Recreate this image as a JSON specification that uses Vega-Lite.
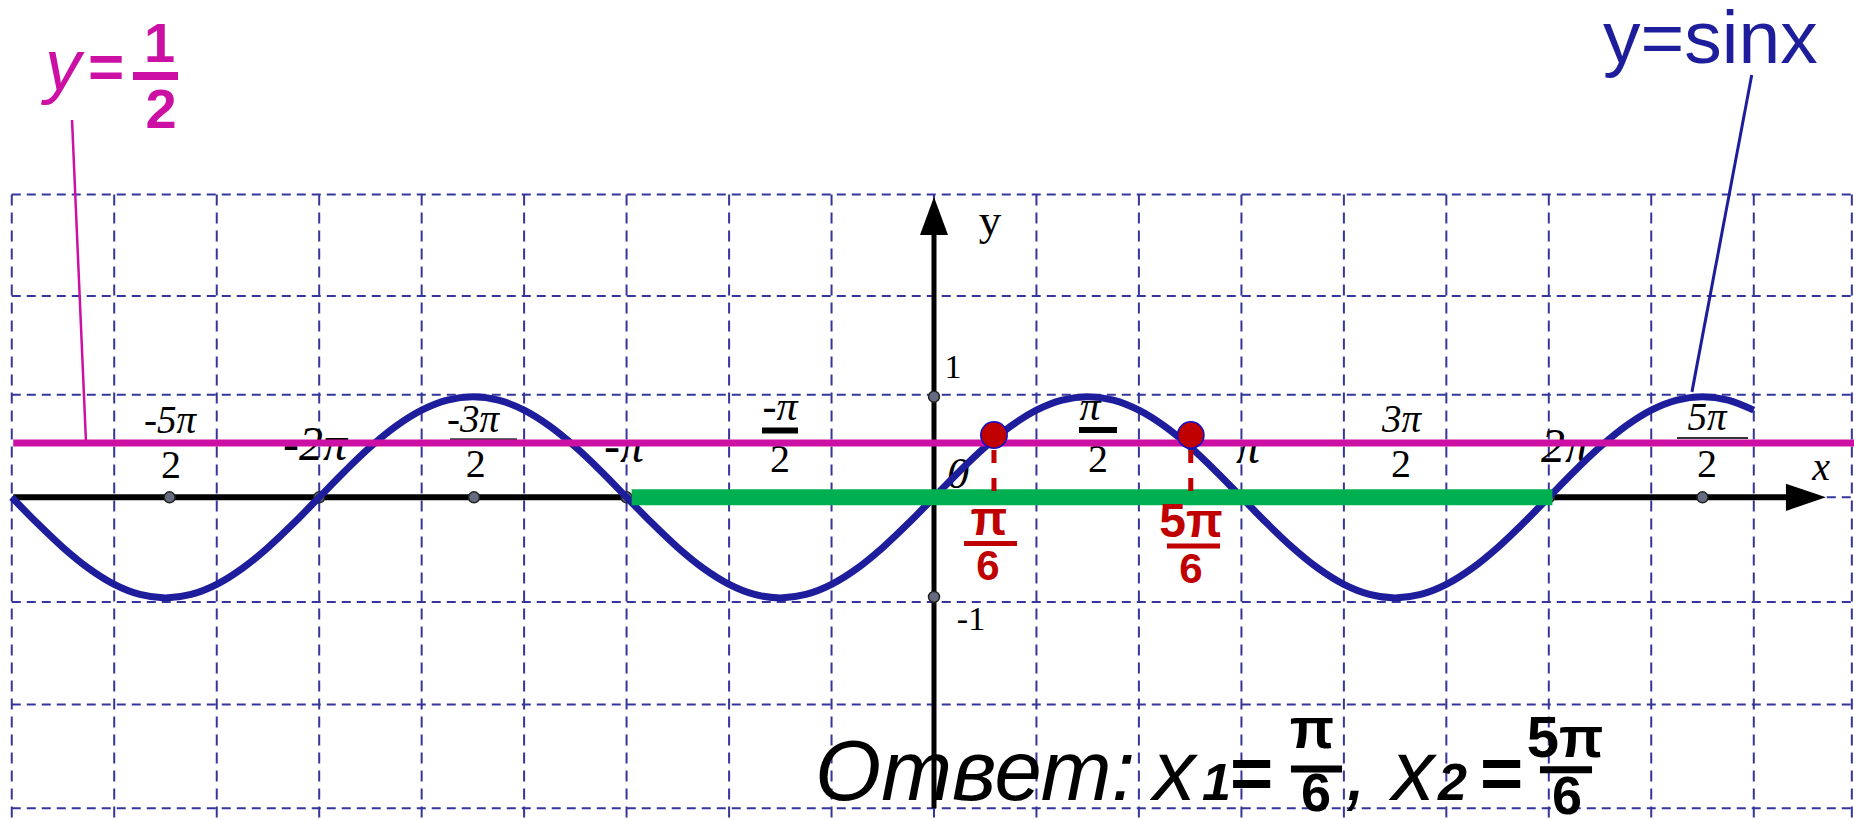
{
  "$schema": "https://vega.github.io/schema/vega-lite/v6.json",
  "width": 1854,
  "height": 820,
  "autosize": {"type": "none"},
  "padding": 0,
  "background": "white",
  "config": {"view": {"stroke": null}},
  "datasets": {
    "curve": [
      {"x": -9.425, "y": 0}, {"x": -9.163, "y": -0.259}, {"x": -8.901, "y": -0.5}, {"x": -8.639, "y": -0.707},
      {"x": -8.378, "y": -0.866}, {"x": -8.116, "y": -0.966}, {"x": -7.854, "y": -1}, {"x": -7.592, "y": -0.966},
      {"x": -7.330, "y": -0.866}, {"x": -7.069, "y": -0.707}, {"x": -6.807, "y": -0.5}, {"x": -6.545, "y": -0.259},
      {"x": -6.283, "y": 0}, {"x": -6.021, "y": 0.259}, {"x": -5.760, "y": 0.5}, {"x": -5.498, "y": 0.707},
      {"x": -5.236, "y": 0.866}, {"x": -4.974, "y": 0.966}, {"x": -4.712, "y": 1}, {"x": -4.451, "y": 0.966},
      {"x": -4.189, "y": 0.866}, {"x": -3.927, "y": 0.707}, {"x": -3.665, "y": 0.5}, {"x": -3.403, "y": 0.259},
      {"x": -3.142, "y": 0}, {"x": -2.880, "y": -0.259}, {"x": -2.618, "y": -0.5}, {"x": -2.356, "y": -0.707},
      {"x": -2.094, "y": -0.866}, {"x": -1.833, "y": -0.966}, {"x": -1.571, "y": -1}, {"x": -1.309, "y": -0.966},
      {"x": -1.047, "y": -0.866}, {"x": -0.785, "y": -0.707}, {"x": -0.524, "y": -0.5}, {"x": -0.262, "y": -0.259},
      {"x": 0, "y": 0}, {"x": 0.262, "y": 0.259}, {"x": 0.524, "y": 0.5}, {"x": 0.785, "y": 0.707},
      {"x": 1.047, "y": 0.866}, {"x": 1.309, "y": 0.966}, {"x": 1.571, "y": 1}, {"x": 1.833, "y": 0.966},
      {"x": 2.094, "y": 0.866}, {"x": 2.356, "y": 0.707}, {"x": 2.618, "y": 0.5}, {"x": 2.880, "y": 0.259},
      {"x": 3.142, "y": 0}, {"x": 3.403, "y": -0.259}, {"x": 3.665, "y": -0.5}, {"x": 3.927, "y": -0.707},
      {"x": 4.189, "y": -0.866}, {"x": 4.451, "y": -0.966}, {"x": 4.712, "y": -1}, {"x": 4.974, "y": -0.966},
      {"x": 5.236, "y": -0.866}, {"x": 5.498, "y": -0.707}, {"x": 5.760, "y": -0.5}, {"x": 6.021, "y": -0.259},
      {"x": 6.283, "y": 0}, {"x": 6.545, "y": 0.259}, {"x": 6.807, "y": 0.5}, {"x": 7.069, "y": 0.707},
      {"x": 7.330, "y": 0.866}, {"x": 7.592, "y": 0.966}, {"x": 7.854, "y": 1}, {"x": 8.116, "y": 0.966},
      {"x": 8.378, "y": 0.866}
    ],
    "gridx": [
      {"x": -9.425, "y": 3.01, "y2": -3.4}, {"x": -8.378, "y": 3.01, "y2": -3.4}, {"x": -7.330, "y": 3.01, "y2": -3.4},
      {"x": -6.283, "y": 3.01, "y2": -3.4}, {"x": -5.236, "y": 3.01, "y2": -3.4}, {"x": -4.189, "y": 3.01, "y2": -3.4},
      {"x": -3.142, "y": 3.01, "y2": -3.4}, {"x": -2.094, "y": 3.01, "y2": -3.4}, {"x": -1.047, "y": 3.01, "y2": -3.4},
      {"x": 0, "y": 3.01, "y2": -3.4}, {"x": 1.047, "y": 3.01, "y2": -3.4}, {"x": 2.094, "y": 3.01, "y2": -3.4},
      {"x": 3.142, "y": 3.01, "y2": -3.4}, {"x": 4.189, "y": 3.01, "y2": -3.4}, {"x": 5.236, "y": 3.01, "y2": -3.4},
      {"x": 6.283, "y": 3.01, "y2": -3.4}, {"x": 7.330, "y": 3.01, "y2": -3.4}, {"x": 8.378, "y": 3.01, "y2": -3.4},
      {"x": 9.38, "y": 3.01, "y2": -3.4}
    ],
    "gridy": [
      {"y": 3.01, "x": -9.425, "x2": 9.6}, {"y": 2.0, "x": -9.425, "x2": 9.6}, {"y": 1.02, "x": -9.425, "x2": 9.6},
      {"y": 0, "x": -9.425, "x2": 9.6}, {"y": -1.04, "x": -9.425, "x2": 9.6}, {"y": -2.06, "x": -9.425, "x2": 9.6},
      {"y": -3.09, "x": -9.425, "x2": 9.6}
    ],
    "segments": [
      {"g": "xaxis", "x": -9.41, "x2": 8.75, "y": 0, "y2": 0},
      {"g": "yaxis", "x": 0, "x2": 0, "y": -3.09, "y2": 2.65},
      {"g": "green", "x": -3.09, "x2": 6.32, "y": 0, "y2": 0},
      {"g": "magenta", "x": -9.41, "x2": 9.6, "y": 0.54, "y2": 0.54},
      {"g": "leadm", "x": -8.809, "x2": -8.666, "y": 3.75, "y2": 0.54},
      {"g": "leadb", "x": 8.357, "x2": 7.746, "y": 4.198, "y2": 1.048},
      {"g": "rdash", "x": 0.613, "x2": 0.613, "y": 0.47, "y2": 0},
      {"g": "rdash", "x": 2.624, "x2": 2.624, "y": 0.47, "y2": 0}
    ],
    "bars": [
      {"g": "thin", "x": -4.946, "x2": -4.262, "y": 0.577},
      {"g": "thin", "x": 7.593, "x2": 8.319, "y": 0.589},
      {"g": "thick", "x": -1.758, "x2": -1.39, "y": 0.664},
      {"g": "thick", "x": 1.482, "x2": 1.87, "y": 0.669},
      {"g": "ans", "x": 3.648, "x2": 4.17, "y": -2.701},
      {"g": "ans", "x": 6.193, "x2": 6.725, "y": -2.709},
      {"g": "mag", "x": -8.186, "x2": -7.726, "y": 4.188},
      {"g": "red", "x": 0.307, "x2": 0.848, "y": -0.459},
      {"g": "red", "x": 2.381, "x2": 2.923, "y": -0.484}
    ],
    "dots": [
      {"x": -7.812, "y": 0}, {"x": -6.283, "y": 0}, {"x": -4.701, "y": 0}, {"x": -3.142, "y": 0},
      {"x": 1.571, "y": 0}, {"x": 3.142, "y": 0}, {"x": 4.712, "y": 0}, {"x": 6.283, "y": 0},
      {"x": 7.854, "y": 0}, {"x": 0, "y": 1.0}, {"x": 0, "y": -0.99}
    ],
    "roots": [
      {"x": 0.613, "y": 0.619}, {"x": 2.624, "y": 0.619}
    ],
    "yarrow": [{"x": 0, "y": 2.796}],
    "xarrow": [{"x": 8.911, "y": 0}],
    "labels": [
      {"g": "num34", "t": "-5π", "x": -7.808, "y": 0.636},
      {"g": "num34", "t": "-3π", "x": -4.711, "y": 0.652},
      {"g": "num34", "t": "3π", "x": 4.778, "y": 0.649},
      {"g": "num34", "t": "5π", "x": 7.9, "y": 0.669},
      {"g": "num42", "t": "-π", "x": -1.574, "y": 0.768},
      {"g": "num42", "t": "π", "x": 1.594, "y": 0.768},
      {"g": "den", "t": "2", "x": -7.798, "y": 0.189},
      {"g": "den", "t": "2", "x": -4.683, "y": 0.205},
      {"g": "den", "t": "2", "x": -1.574, "y": 0.251},
      {"g": "den", "t": "2", "x": 1.676, "y": 0.251},
      {"g": "den", "t": "2", "x": 4.773, "y": 0.201},
      {"g": "den", "t": "2", "x": 7.9, "y": 0.201},
      {"g": "int", "t": "-2π", "x": -6.326, "y": 0.371},
      {"g": "int", "t": "-π", "x": -3.168, "y": 0.351},
      {"g": "int", "t": "π", "x": 3.209, "y": 0.341},
      {"g": "int", "t": "2π", "x": 6.449, "y": 0.351},
      {"g": "zero", "t": "0", "x": 0.245, "y": 0.093},
      {"g": "xlab", "t": "x", "x": 9.065, "y": 0.172},
      {"g": "ytick", "t": "1", "x": 0.194, "y": 1.186},
      {"g": "ytick", "t": "-1", "x": 0.378, "y": -1.32},
      {"g": "ylab", "t": "y", "x": 0.572, "y": 2.607}
    ],
    "texts": [
      {"g": "ans", "t": "Ответ:", "x": -1.216, "y": -3.007},
      {"g": "ans", "t": "x", "x": 2.238, "y": -3.007},
      {"g": "ans", "t": ",", "x": 4.2, "y": -3.007},
      {"g": "ans", "t": "x", "x": 4.681, "y": -3.007},
      {"g": "sub", "t": "1", "x": 2.739, "y": -3.007},
      {"g": "sub", "t": "2", "x": 5.151, "y": -3.007},
      {"g": "eq", "t": "=", "x": 3.025, "y": -3.0},
      {"g": "eq", "t": "=", "x": 5.58, "y": -3.0},
      {"g": "fnum", "t": "π", "x": 3.863, "y": -2.491},
      {"g": "fden", "t": "6", "x": 3.904, "y": -3.115},
      {"g": "fnum", "t": "5π", "x": 6.449, "y": -2.58},
      {"g": "fden", "t": "6", "x": 6.469, "y": -3.146},
      {"g": "my", "t": "y", "x": -9.085, "y": 4.049},
      {"g": "meq", "t": "=", "x": -8.646, "y": 4.073},
      {"g": "mfrac", "t": "1", "x": -7.915, "y": 4.327},
      {"g": "mfrac", "t": "2", "x": -7.9, "y": 3.671},
      {"g": "sinx", "t": "y=sinx", "x": 6.837, "y": 4.317},
      {"g": "rnum", "t": "π", "x": 0.562, "y": -0.375},
      {"g": "rden", "t": "6", "x": 0.552, "y": -0.822},
      {"g": "rnum", "t": "5π", "x": 2.626, "y": -0.395},
      {"g": "rden", "t": "6", "x": 2.626, "y": -0.852}
    ]
  },
  "encoding": {
    "x": {"field": "x", "type": "quantitative", "scale": {"domain": [-9.5452, 9.4022], "nice": false, "zero": false}, "axis": null},
    "y": {"field": "y", "type": "quantitative", "scale": {"domain": [-3.2078, 4.9433], "nice": false, "zero": false}, "axis": null}
  },
  "layer": [
    {
      "data": {"name": "gridx"},
      "mark": {"type": "rule", "color": "#35359B", "strokeWidth": 2, "strokeDash": [11, 7]},
      "encoding": {"y2": {"field": "y2"}}
    },
    {
      "data": {"name": "gridy"},
      "mark": {"type": "rule", "color": "#35359B", "strokeWidth": 2, "strokeDash": [9, 6]},
      "encoding": {"x2": {"field": "x2"}}
    },
    {
      "data": {"name": "bars"},
      "transform": [{"filter": "datum.g === 'thin'"}],
      "mark": {"type": "rule", "color": "#333333", "strokeWidth": 2},
      "encoding": {"x2": {"field": "x2"}}
    },
    {
      "data": {"name": "bars"},
      "transform": [{"filter": "datum.g === 'thick'"}],
      "mark": {"type": "rule", "color": "black", "strokeWidth": 6},
      "encoding": {"x2": {"field": "x2"}}
    },
    {
      "data": {"name": "labels"},
      "transform": [{"filter": "datum.g === 'num34'"}],
      "mark": {"type": "text", "font": "Liberation Serif", "fontStyle": "italic", "fontSize": 39, "align": "center", "baseline": "alphabetic", "color": "black"},
      "encoding": {"text": {"field": "t"}}
    },
    {
      "data": {"name": "labels"},
      "transform": [{"filter": "datum.g === 'num42'"}],
      "mark": {"type": "text", "font": "Liberation Serif", "fontStyle": "italic", "fontSize": 42, "align": "center", "baseline": "alphabetic", "color": "black"},
      "encoding": {"text": {"field": "t"}}
    },
    {
      "data": {"name": "labels"},
      "transform": [{"filter": "datum.g === 'den'"}],
      "mark": {"type": "text", "font": "Liberation Serif", "fontSize": 40, "align": "center", "baseline": "alphabetic", "color": "black"},
      "encoding": {"text": {"field": "t"}}
    },
    {
      "data": {"name": "labels"},
      "transform": [{"filter": "datum.g === 'int'"}],
      "mark": {"type": "text", "font": "Liberation Serif", "fontStyle": "italic", "fontSize": 48, "align": "center", "baseline": "alphabetic", "color": "black"},
      "encoding": {"text": {"field": "t"}}
    },
    {
      "data": {"name": "labels"},
      "transform": [{"filter": "datum.g === 'zero'"}],
      "mark": {"type": "text", "font": "Liberation Serif", "fontStyle": "italic", "fontSize": 44, "align": "center", "baseline": "alphabetic", "color": "black"},
      "encoding": {"text": {"field": "t"}}
    },
    {
      "data": {"name": "labels"},
      "transform": [{"filter": "datum.g === 'xlab'"}],
      "mark": {"type": "text", "font": "Liberation Serif", "fontStyle": "italic", "fontSize": 40, "align": "center", "baseline": "alphabetic", "color": "black"},
      "encoding": {"text": {"field": "t"}}
    },
    {
      "data": {"name": "labels"},
      "transform": [{"filter": "datum.g === 'ytick'"}],
      "mark": {"type": "text", "font": "Liberation Serif", "fontSize": 34, "align": "center", "baseline": "alphabetic", "color": "black"},
      "encoding": {"text": {"field": "t"}}
    },
    {
      "data": {"name": "labels"},
      "transform": [{"filter": "datum.g === 'ylab'"}],
      "mark": {"type": "text", "font": "Liberation Serif", "fontSize": 45, "align": "center", "baseline": "alphabetic", "color": "black"},
      "encoding": {"text": {"field": "t"}}
    },
    {
      "data": {"name": "texts"},
      "transform": [{"filter": "datum.g === 'ans'"}],
      "mark": {"type": "text", "font": "Liberation Sans", "fontStyle": "italic", "fontSize": 85, "align": "left", "baseline": "alphabetic", "color": "black"},
      "encoding": {"text": {"field": "t"}}
    },
    {
      "data": {"name": "texts"},
      "transform": [{"filter": "datum.g === 'sub'"}],
      "mark": {"type": "text", "font": "Liberation Sans", "fontStyle": "italic", "fontWeight": "bold", "fontSize": 52, "align": "left", "baseline": "alphabetic", "color": "black"},
      "encoding": {"text": {"field": "t"}}
    },
    {
      "data": {"name": "texts"},
      "transform": [{"filter": "datum.g === 'eq'"}],
      "mark": {"type": "text", "font": "Liberation Sans", "fontWeight": "bold", "fontSize": 74, "align": "left", "baseline": "alphabetic", "color": "black"},
      "encoding": {"text": {"field": "t"}}
    },
    {
      "data": {"name": "texts"},
      "transform": [{"filter": "datum.g === 'fnum'"}],
      "mark": {"type": "text", "font": "Liberation Sans", "fontWeight": "bold", "fontSize": 58, "align": "center", "baseline": "alphabetic", "color": "black"},
      "encoding": {"text": {"field": "t"}}
    },
    {
      "data": {"name": "texts"},
      "transform": [{"filter": "datum.g === 'fden'"}],
      "mark": {"type": "text", "font": "Liberation Sans", "fontWeight": "bold", "fontSize": 54, "align": "center", "baseline": "alphabetic", "color": "black"},
      "encoding": {"text": {"field": "t"}}
    },
    {
      "data": {"name": "bars"},
      "transform": [{"filter": "datum.g === 'ans'"}],
      "mark": {"type": "rule", "color": "black", "strokeWidth": 7},
      "encoding": {"x2": {"field": "x2"}}
    },
    {
      "data": {"name": "segments"},
      "transform": [{"filter": "datum.g === 'xaxis'"}],
      "mark": {"type": "rule", "color": "black", "strokeWidth": 6},
      "encoding": {"x2": {"field": "x2"}, "y2": {"field": "y2"}}
    },
    {
      "data": {"name": "segments"},
      "transform": [{"filter": "datum.g === 'yaxis'"}],
      "mark": {"type": "rule", "color": "black", "strokeWidth": 5},
      "encoding": {"x2": {"field": "x2"}, "y2": {"field": "y2"}}
    },
    {
      "data": {"name": "yarrow"},
      "mark": {"type": "point", "shape": "M0,-1L0.737,1L-0.737,1Z", "size": 1444, "filled": true, "color": "black", "opacity": 1},
      "encoding": {}
    },
    {
      "data": {"name": "xarrow"},
      "mark": {"type": "point", "shape": "M1,0L-1,0.68L-1,-0.68Z", "size": 1600, "filled": true, "color": "black", "opacity": 1},
      "encoding": {}
    },
    {
      "data": {"name": "dots"},
      "mark": {"type": "point", "shape": "circle", "size": 120, "filled": true, "fill": "#666B80", "stroke": "#222222", "strokeWidth": 1.5, "opacity": 1},
      "encoding": {}
    },
    {
      "data": {"name": "curve"},
      "mark": {"type": "line", "color": "#1E1E9C", "strokeWidth": 7, "interpolate": "monotone"},
      "encoding": {}
    },
    {
      "data": {"name": "segments"},
      "transform": [{"filter": "datum.g === 'green'"}],
      "mark": {"type": "rule", "color": "#00B050", "strokeWidth": 16},
      "encoding": {"x2": {"field": "x2"}, "y2": {"field": "y2"}}
    },
    {
      "data": {"name": "segments"},
      "transform": [{"filter": "datum.g === 'magenta'"}],
      "mark": {"type": "rule", "color": "#CC10A4", "strokeWidth": 7},
      "encoding": {"x2": {"field": "x2"}, "y2": {"field": "y2"}}
    },
    {
      "data": {"name": "segments"},
      "transform": [{"filter": "datum.g === 'leadm'"}],
      "mark": {"type": "rule", "color": "#CC10A4", "strokeWidth": 2.5},
      "encoding": {"x2": {"field": "x2"}, "y2": {"field": "y2"}}
    },
    {
      "data": {"name": "segments"},
      "transform": [{"filter": "datum.g === 'leadb'"}],
      "mark": {"type": "rule", "color": "#1E1E9C", "strokeWidth": 3},
      "encoding": {"x2": {"field": "x2"}, "y2": {"field": "y2"}}
    },
    {
      "data": {"name": "segments"},
      "transform": [{"filter": "datum.g === 'rdash'"}],
      "mark": {"type": "rule", "color": "#C00000", "strokeWidth": 5, "strokeDash": [13, 15]},
      "encoding": {"x2": {"field": "x2"}, "y2": {"field": "y2"}}
    },
    {
      "data": {"name": "roots"},
      "mark": {"type": "point", "shape": "circle", "size": 700, "filled": true, "fill": "#C00000", "stroke": "#1010C8", "strokeWidth": 1.5, "opacity": 1},
      "encoding": {}
    },
    {
      "data": {"name": "texts"},
      "transform": [{"filter": "datum.g === 'rnum'"}],
      "mark": {"type": "text", "font": "Liberation Sans", "fontWeight": "bold", "fontSize": 48, "align": "center", "baseline": "alphabetic", "color": "#C00000"},
      "encoding": {"text": {"field": "t"}}
    },
    {
      "data": {"name": "texts"},
      "transform": [{"filter": "datum.g === 'rden'"}],
      "mark": {"type": "text", "font": "Liberation Sans", "fontWeight": "bold", "fontSize": 42, "align": "center", "baseline": "alphabetic", "color": "#C00000"},
      "encoding": {"text": {"field": "t"}}
    },
    {
      "data": {"name": "bars"},
      "transform": [{"filter": "datum.g === 'red'"}],
      "mark": {"type": "rule", "color": "#C00000", "strokeWidth": 5},
      "encoding": {"x2": {"field": "x2"}}
    },
    {
      "data": {"name": "texts"},
      "transform": [{"filter": "datum.g === 'my'"}],
      "mark": {"type": "text", "font": "Liberation Sans", "fontStyle": "italic", "fontSize": 72, "align": "left", "baseline": "alphabetic", "color": "#CC10A4"},
      "encoding": {"text": {"field": "t"}}
    },
    {
      "data": {"name": "texts"},
      "transform": [{"filter": "datum.g === 'meq'"}],
      "mark": {"type": "text", "font": "Liberation Sans", "fontWeight": "bold", "fontSize": 62, "align": "left", "baseline": "alphabetic", "color": "#CC10A4"},
      "encoding": {"text": {"field": "t"}}
    },
    {
      "data": {"name": "texts"},
      "transform": [{"filter": "datum.g === 'mfrac'"}],
      "mark": {"type": "text", "font": "Liberation Sans", "fontWeight": "bold", "fontSize": 56, "align": "center", "baseline": "alphabetic", "color": "#CC10A4"},
      "encoding": {"text": {"field": "t"}}
    },
    {
      "data": {"name": "bars"},
      "transform": [{"filter": "datum.g === 'mag'"}],
      "mark": {"type": "rule", "color": "#CC10A4", "strokeWidth": 8},
      "encoding": {"x2": {"field": "x2"}}
    },
    {
      "data": {"name": "texts"},
      "transform": [{"filter": "datum.g === 'sinx'"}],
      "mark": {"type": "text", "font": "Liberation Sans", "fontSize": 75, "align": "left", "baseline": "alphabetic", "color": "#1E1E9C"},
      "encoding": {"text": {"field": "t"}}
    }
  ]
}
